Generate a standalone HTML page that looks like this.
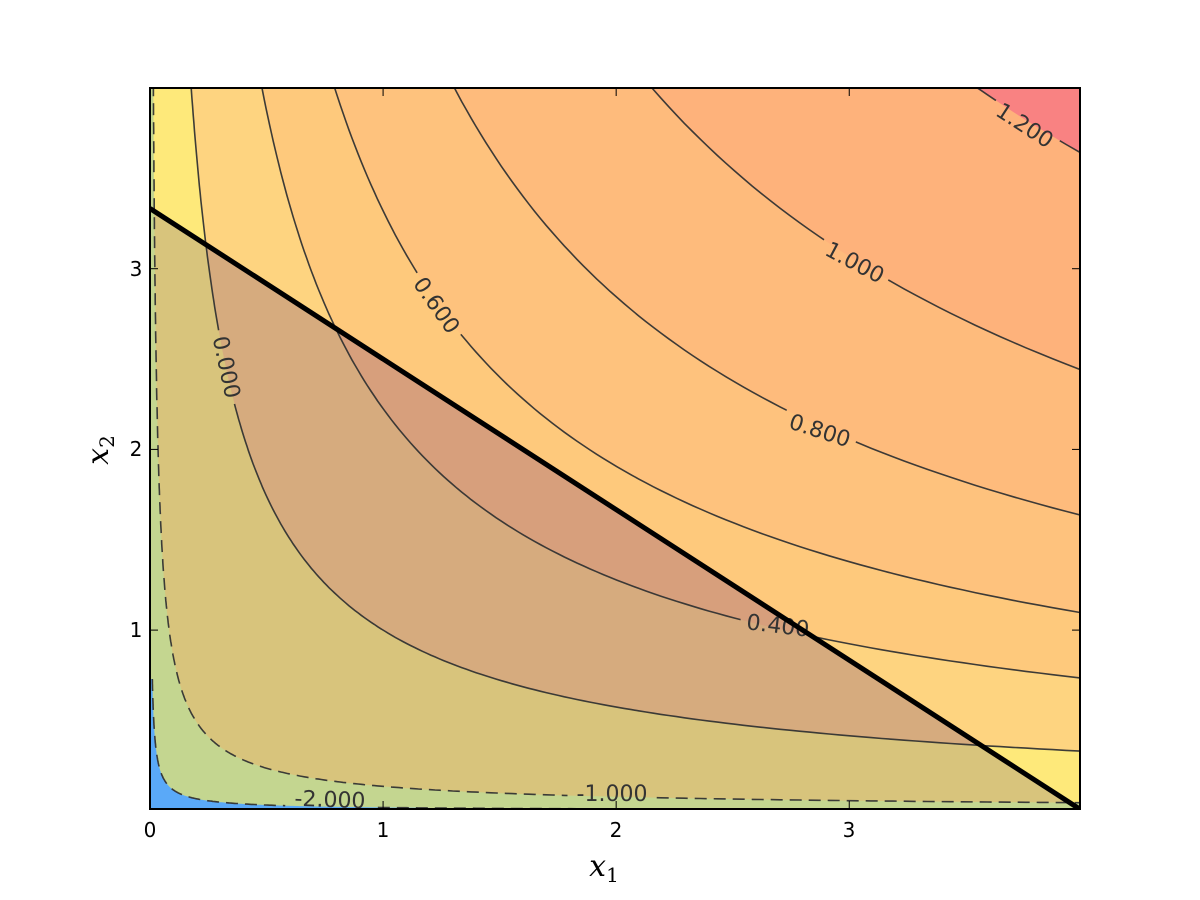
<!DOCTYPE html>
<html><head><meta charset="utf-8">
<style>
html,body{margin:0;padding:0;background:#fff;}
svg{display:block;}
</style></head>
<body>
<svg id="s" width="1200" height="900" xmlns="http://www.w3.org/2000/svg" font-family="DejaVu Sans, Liberation Sans, sans-serif">
<defs>
<clipPath id="pc"><rect x="150" y="88" width="930" height="721"/></clipPath>
<clipPath id="tri"><polygon id="triP" points=""/></clipPath>
<mask id="lm" maskUnits="userSpaceOnUse" x="0" y="0" width="1200" height="900"><rect x="0" y="0" width="1200" height="900" fill="#fff"/><g id="maskg"></g></mask>
</defs>
<rect x="0" y="0" width="1200" height="900" fill="#fff"/>
<g clip-path="url(#pc)">
<g id="bands"></g>
<g id="bands2" clip-path="url(#tri)"></g>
<g id="lines" mask="url(#lm)" fill="none"></g>
<g id="labels"></g>
<line id="budget" stroke="#000" stroke-width="5"/>
</g>
<rect x="150" y="88" width="930" height="721" fill="none" stroke="#000" stroke-width="2"/>
<g id="ticks" stroke="#000" stroke-width="1"></g>
<g font-size="20" fill="#000" text-anchor="middle">
<text x="150" y="837">0</text><text x="383" y="837">1</text><text x="616" y="837">2</text><text x="849" y="837">3</text>
<text x="136" y="637">1</text><text x="136" y="456">2</text><text x="136" y="276">3</text>
</g>
<text x="604" y="876" style="font-family:'DejaVu Serif','Liberation Serif',serif;font-style:italic;font-size:30px" text-anchor="middle">x<tspan style="font-style:normal;font-size:20px" dy="6">1</tspan></text>
<text transform="translate(108,450) rotate(-90)" style="font-family:'DejaVu Serif','Liberation Serif',serif;font-style:italic;font-size:30px" text-anchor="middle">x<tspan style="font-style:normal;font-size:20px" dy="6">2</tspan></text>
</svg>
<script>
var NS="http://www.w3.org/2000/svg";
function X(x){return 150+x*(930/3.99);}
function Y(y){return 809-(y-0.01)*(721/3.99);}
function el(t,a,p){var e=document.createElementNS(NS,t);for(var k in a)e.setAttribute(k,a[k]);p.appendChild(e);return e;}
function cy(L,x){return Math.exp((L-0.4*Math.log(x))/0.5);}
function xs(){var a=[];for(var i=0;i<=400;i++){a.push(0.01*Math.pow(399,i/400));}return a;}
var X_=xs();
function regionPts(L){
  var p=[];var y0=Math.min(4,Math.max(0.01,cy(L,0.01)));
  p.push([0,4]);p.push([0,y0]);
  X_.forEach(function(x){var y=Math.min(4,Math.max(0.01,cy(L,x)));p.push([x,y]);});
  p.push([3.99,4]);
  return p.map(function(q){return X(q[0]).toFixed(1)+","+Y(q[1]).toFixed(1);}).join(" ");
}
var fills=[[-99,"#5aa9f8","#5aa9f8"],[-2,"#c4d690","#c4d690"],[-1,"#fee97a","#d8c47c"],[0,"#fed480","#d6ab7e"],[0.4,"#fec97c","#d79f7c"],[0.6,"#fec27d"],[0.8,"#febb7c"],[1.0,"#feb27b"],[1.2,"#f98282"]];
var b=document.getElementById("bands"),b2=document.getElementById("bands2");
fills.forEach(function(f){
  var pts=f[0]<-50?"150,88 1080,88 1080,809 150,809":regionPts(f[0]);
  el("polygon",{points:pts,fill:f[1]},b);
  if(f[2])el("polygon",{points:pts,fill:f[2]},b2);
});
var yb=function(x){return 3.3333-0.8333*x;};
document.getElementById("triP").setAttribute("points",X(0)+","+Y(0.01)+" "+X(0)+","+Y(3.3333)+" "+X(3.99)+","+Y(yb(3.99))+" "+X(3.99)+","+Y(0.01));
var bl=document.getElementById("budget");
bl.setAttribute("x1",X(0));bl.setAttribute("y1",Y(3.3333));bl.setAttribute("x2",X(3.99));bl.setAttribute("y2",Y(yb(3.99)));
var lg=document.getElementById("lines");
[-2,-1,0,0.4,0.6,0.8,1.0,1.2].forEach(function(L){
  var d="";X_.forEach(function(x,i){var y=cy(L,x);if(y>6)y=6;d+=(d?"L":"M")+X(x).toFixed(1)+","+Y(y).toFixed(1);});
  var a={d:d,stroke:"#333","stroke-width":"1.6","stroke-opacity":"0.95"};
  if(L<0)a["stroke-dasharray"]="12,7";
  el("path",a,lg);
});
var labs=[["1.200",1025,125,33],["1.000",855,262,28],["0.800",820,430,18],["0.600",437,305,55],["0.400",778,625,7],["0.000",227,367,78],["-1.000",612,793,0],["-2.000",330,799,2]];
var mg=document.getElementById("maskg"),lb=document.getElementById("labels");
labs.forEach(function(l){
  var w=l[0].length*13.5+8;
  el("rect",{x:-w/2,y:-12,width:w,height:24,fill:"#000",transform:"translate("+l[1]+","+l[2]+") rotate("+l[3]+")"},mg);
  var t=el("text",{x:0,y:8,"font-size":"22","text-anchor":"middle",fill:"#333",transform:"translate("+l[1]+","+l[2]+") rotate("+l[3]+")"},lb);
  t.textContent=l[0];
});
var tg=document.getElementById("ticks");
[0,1,2,3].forEach(function(v){el("line",{x1:X(v),y1:809,x2:X(v),y2:801},tg);el("line",{x1:X(v),y1:88,x2:X(v),y2:96},tg);});
[1,2,3].forEach(function(v){el("line",{x1:150,y1:Y(v),x2:158,y2:Y(v)},tg);el("line",{x1:1080,y1:Y(v),x2:1072,y2:Y(v)},tg);});
</script>
</body></html>
